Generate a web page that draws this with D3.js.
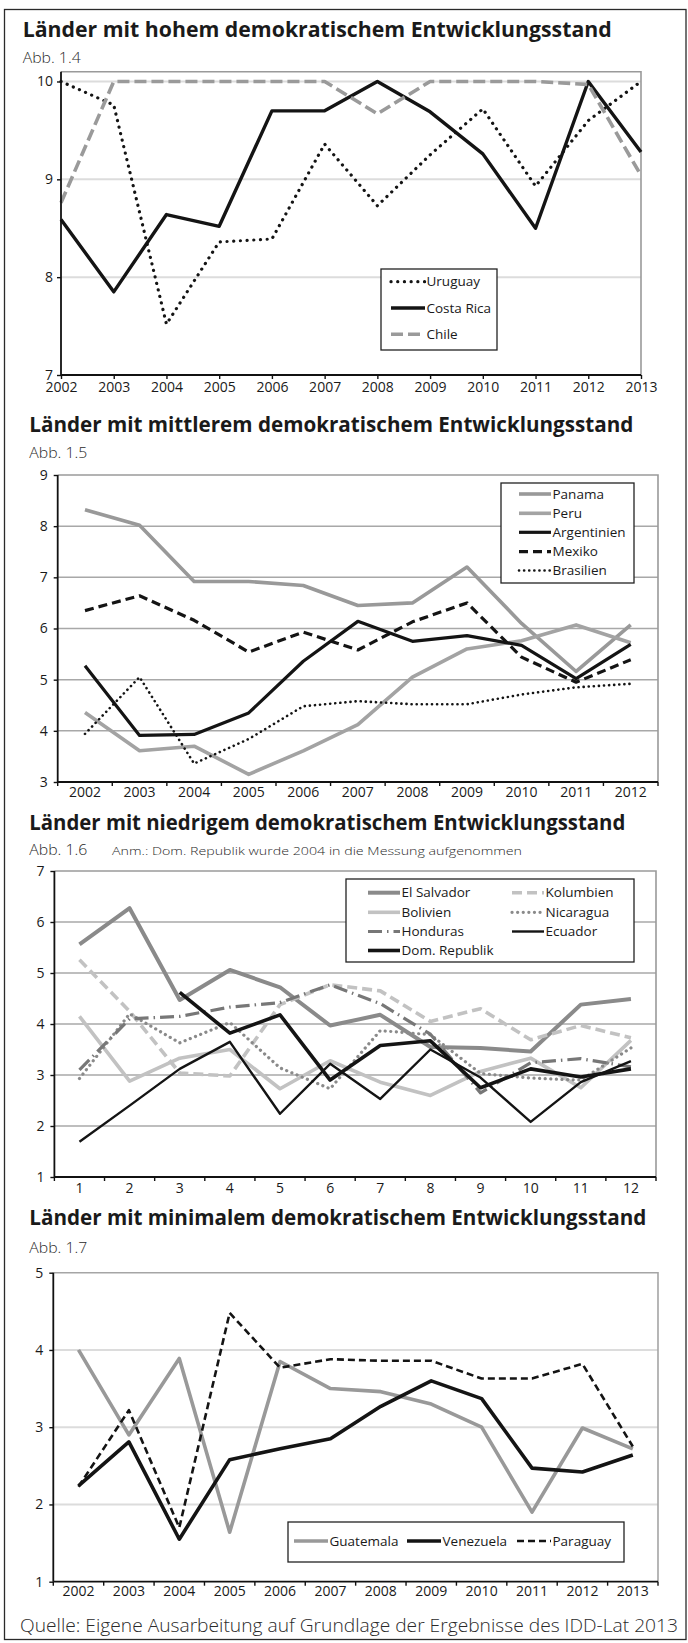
<!DOCTYPE html>
<html><head><meta charset="utf-8">
<script src="https://cdn.jsdelivr.net/npm/d3@7"></script>
<style>
body{margin:0;background:#fff;}
svg{display:block;}
text{font-family:"Open Sans","Noto Sans",sans-serif;fill:#1a1a1a;}
</style></head><body>
<svg id="c" width="688" height="1643"></svg>
<script>
// ---------- DATA ----------
const years1 = ["2002","2003","2004","2005","2006","2007","2008","2009","2010","2011","2012","2013"];
const yTicks1 = [7, 8, 9, 10];
const uruguay   = [10.0, 9.76, 7.52, 8.36, 8.39, 9.36, 8.73, 9.25, 9.72, 8.93, 9.6, 10.0];
const costaRica = [8.59, 7.85, 8.64, 8.52, 9.7, 9.7, 10.0, 9.69, 9.26, 8.5, 10.0, 9.28];
const chile     = [8.76, 10.0, 10.0, 10.0, 10.0, 10.0, 9.67, 10.0, 10.0, 10.0, 9.97, 9.04];

const years2 = ["2002","2003","2004","2005","2006","2007","2008","2009","2010","2011","2012"];
const yTicks2 = [3, 4, 5, 6, 7, 8, 9];
const panama      = [8.32, 8.02, 6.92, 6.92, 6.84, 6.45, 6.5, 7.2, 6.1, 5.16, 6.07];
const peru        = [4.36, 3.61, 3.7, 3.15, 3.61, 4.12, 5.05, 5.6, 5.76, 6.07, 5.72];
const argentinien = [5.27, 3.91, 3.93, 4.35, 5.36, 6.14, 5.75, 5.86, 5.67, 5.02, 5.69];
const mexiko      = [6.35, 6.64, 6.16, 5.54, 5.93, 5.58, 6.13, 6.5, 5.44, 4.95, 5.39];
const brasilien   = [3.94, 5.05, 3.36, 3.84, 4.48, 4.58, 4.52, 4.52, 4.71, 4.85, 4.92];

const cats3 = ["1","2","3","4","5","6","7","8","9","10","11","12"];
const yTicks3 = [1, 2, 3, 4, 5, 6, 7];
const elSalvador  = [5.56, 6.27, 4.47, 5.06, 4.72, 3.97, 4.18, 3.55, 3.53, 3.46, 4.38, 4.49];
const kolumbien   = [5.26, 4.25, 3.04, 2.98, 4.38, 4.77, 4.65, 4.05, 4.3, 3.69, 3.97, 3.73];
const bolivien    = [4.15, 2.88, 3.33, 3.5, 2.73, 3.28, 2.86, 2.6, 3.07, 3.33, 2.75, 3.68];
const nicaragua   = [2.93, 4.2, 3.63, 4.03, 3.14, 2.73, 3.87, 3.79, 3.03, 2.94, 2.9, 3.53];
const honduras    = [3.1, 4.1, 4.15, 4.33, 4.42, 4.77, 4.4, 3.8, 2.65, 3.24, 3.32, 3.16];
const ecuador     = [1.69, 2.4, 3.12, 3.65, 2.24, 3.22, 2.53, 3.5, 2.95, 2.08, 2.86, 3.27];
const domRepublik = [null, null, 4.62, 3.82, 4.18, 2.9, 3.58, 3.67, 2.75, 3.12, 2.96, 3.12];

const years4 = ["2002","2003","2004","2005","2006","2007","2008","2009","2010","2011","2012","2013"];
const yTicks4 = [1, 2, 3, 4, 5];
const guatemala = [4.0, 2.9, 3.89, 1.64, 3.85, 3.5, 3.46, 3.3, 3.0, 1.9, 2.99, 2.72];
const venezuela = [2.24, 2.81, 1.55, 2.58, 2.72, 2.85, 3.27, 3.6, 3.37, 2.47, 2.42, 2.64];
const paraguay  = [2.23, 3.22, 1.7, 4.48, 3.77, 3.88, 3.86, 3.86, 3.63, 3.63, 3.82, 2.75];

const titles = [
  "Länder mit hohem demokratischem Entwicklungsstand",
  "Länder mit mittlerem demokratischem Entwicklungsstand",
  "Länder mit niedrigem demokratischem Entwicklungsstand",
  "Länder mit minimalem demokratischem Entwicklungsstand"
];
const subtitles = ["Abb. 1.4", "Abb. 1.5", "Abb. 1.6", "Abb. 1.7"];
const note3 = "Anm.: Dom. Republik wurde 2004 in die Messung aufgenommen";
const source = "Quelle: Eigene Ausarbeitung auf Grundlage der Ergebnisse des IDD-Lat 2013";

// ---------- DRAW ----------
const svg = d3.select("#c");
svg.append("rect").attr("x", 4.5).attr("y", 9.5).attr("width", 681.5).attr("height", 1630)
  .attr("fill", "none").attr("stroke", "#2a2a2a").attr("stroke-width", 1.3);

function panel(cfg) {
  const g = svg.append("g");
  g.append("text").attr("x", cfg.tx).attr("y", cfg.ty).text(cfg.title)
    .attr("font-size", 22).attr("font-weight", 700)
    .attr("textLength", cfg.tlen).attr("lengthAdjust", "spacingAndGlyphs");
  g.append("text").attr("x", cfg.tx).attr("y", cfg.sy).text(cfg.sub)
    .attr("font-size", 15).attr("font-weight", 300).style("fill", "#2a2a2a")
    .attr("textLength", 58).attr("lengthAdjust", "spacingAndGlyphs");
  if (cfg.note) {
    g.append("text").attr("x", cfg.noteX).attr("y", cfg.sy).text(cfg.note)
      .attr("font-size", 11.5).attr("font-weight", 300).style("fill", "#2a2a2a")
      .attr("textLength", cfg.noteLen).attr("lengthAdjust", "spacingAndGlyphs");
  }

  const y = d3.scaleLinear().domain(cfg.yDomain).range([cfg.y1, cfg.y0]);
  let x, xc;
  if (cfg.point) {
    x = d3.scalePoint().domain(cfg.cats).range([cfg.x0, cfg.x1]);
    xc = d => x(d);
  } else {
    x = d3.scaleBand().domain(cfg.cats).range([cfg.x0, cfg.x1]).paddingInner(0).paddingOuter(0);
    xc = d => x(d) + x.bandwidth() / 2;
  }

  // gridlines
  g.append("g").selectAll("line").data(cfg.yTicks.filter(t => t !== cfg.yTicks[0] && y(t) > cfg.y0 + 0.5))
    .join("line").attr("x1", cfg.x0).attr("x2", cfg.x1)
    .attr("y1", d => y(d)).attr("y2", d => y(d))
    .attr("stroke", cfg.grid).attr("stroke-width", cfg.gridW);
  g.append("path").attr("d", `M${cfg.x0},${cfg.y0}H${cfg.x1}V${cfg.y1}`)
    .attr("fill", "none").attr("stroke", cfg.border).attr("stroke-width", 1.6);

  // series
  const line = d3.line().defined(d => d.v != null).x(d => xc(d.c)).y(d => y(d.v));
  cfg.series.forEach(s => {
    const pts = cfg.cats.map((c, i) => ({c: c, v: s.values[i]}));
    g.append("path").attr("d", line(pts)).attr("fill", "none")
      .attr("stroke", s.color).attr("stroke-width", s.w)
      .attr("stroke-dasharray", s.dash || null)
      .attr("stroke-linecap", s.cap || "butt")
      .attr("stroke-linejoin", "round");
  });

  // y axis
  const ya = g.append("g").attr("transform", `translate(${cfg.x0},0)`)
    .call(d3.axisLeft(y).tickValues(cfg.yTicks).tickFormat(d3.format("d"))
      .tickSize(4).tickSizeOuter(0).tickPadding(cfg.yPad));
  ya.select(".domain").remove();
  ya.selectAll(".tick line").attr("stroke", "#111").attr("stroke-width", 1.4);
  ya.selectAll(".tick text").attr("font-size", 14).attr("font-family", null).style("fill", "#1a1a1a");
  g.append("line").attr("x1", cfg.x0).attr("x2", cfg.x0).attr("y1", cfg.y0).attr("y2", cfg.y1)
    .attr("stroke", "#111").attr("stroke-width", 1.8);

  // x axis
  const xa = g.append("g").attr("transform", `translate(0,${cfg.y1})`)
    .call(d3.axisBottom(x).tickSize(cfg.point ? 4 : 0).tickSizeOuter(0));
  xa.select(".domain").remove();
  xa.selectAll(".tick line").attr("stroke", "#111").attr("stroke-width", 1.4);
  xa.selectAll(".tick text").attr("font-size", 14).attr("font-family", null).style("fill", "#1a1a1a")
    .attr("dy", null).attr("y", cfg.xly - cfg.y1);
  if (!cfg.point) {
    const edges = cfg.cats.map(c => x(c)).concat([cfg.x1]);
    g.append("g").selectAll("line").data(edges).join("line")
      .attr("x1", d => d).attr("x2", d => d).attr("y1", cfg.y1).attr("y2", cfg.y1 + 4)
      .attr("stroke", "#111").attr("stroke-width", 1.4);
  }
  g.append("line").attr("x1", cfg.x0).attr("x2", cfg.x1).attr("y1", cfg.y1).attr("y2", cfg.y1)
    .attr("stroke", "#111").attr("stroke-width", 1.8);

  // legend
  const L = cfg.legend;
  g.append("rect").attr("x", L.x).attr("y", L.y).attr("width", L.w).attr("height", L.h)
    .attr("fill", "#fff").attr("stroke", "#222").attr("stroke-width", 1.3);
  L.items.forEach(it => {
    const s = cfg.series[it.i];
    g.append("line").attr("x1", it.sx).attr("x2", it.sx + L.sl).attr("y1", it.y).attr("y2", it.y)
      .attr("stroke", s.color).attr("stroke-width", s.w)
      .attr("stroke-dasharray", s.dash || null).attr("stroke-linecap", s.cap || "butt");
    g.append("text").attr("x", it.sx + L.sl + 1.5).attr("y", it.y).attr("dy", "0.35em")
      .attr("font-size", 13.5).text(s.name);
  });
}

panel({
  id: 1, title: titles[0], tx: 22.7, ty: 36.7, tlen: 589, sub: subtitles[0], sy: 62.7,
  cats: years1, point: true, x0: 61, x1: 641, y0: 71.7, y1: 375, yDomain: [7, 10.1], yTicks: yTicks1,
  yPad: 4, xly: 391.7, grid: "#dcdcdc", gridW: 2, border: "#9a9a9a",
  series: [
    {name: "Uruguay", values: uruguay, color: "#141414", w: 3.2, dash: "0.1 6.6", cap: "round"},
    {name: "Costa Rica", values: costaRica, color: "#141414", w: 3.4},
    {name: "Chile", values: chile, color: "#9a9a9a", w: 3.6, dash: "12 5"}
  ],
  legend: {x: 381, y: 269, w: 116, h: 81, sl: 34,
    items: [{i: 0, sx: 391, y: 281.7}, {i: 1, sx: 391, y: 308}, {i: 2, sx: 391, y: 334.3}]}
});

panel({
  id: 2, title: titles[1], tx: 29.3, ty: 431.7, tlen: 604, sub: subtitles[1], sy: 458,
  cats: years2, point: false, x0: 57.7, x1: 658, y0: 475, y1: 782, yDomain: [3, 9], yTicks: yTicks2,
  yPad: 6, xly: 796.7, grid: "#a8a8a8", gridW: 1.5, border: "#9a9a9a",
  series: [
    {name: "Panama", values: panama, color: "#999999", w: 3.6},
    {name: "Peru", values: peru, color: "#a3a3a3", w: 3.6},
    {name: "Argentinien", values: argentinien, color: "#141414", w: 3.2},
    {name: "Mexiko", values: mexiko, color: "#141414", w: 3.2, dash: "9 5"},
    {name: "Brasilien", values: brasilien, color: "#141414", w: 2.6, dash: "0.1 5", cap: "round"}
  ],
  legend: {x: 501, y: 483, w: 133, h: 100, sl: 32,
    items: [{i: 0, sx: 519, y: 494}, {i: 1, sx: 519, y: 513.3}, {i: 2, sx: 519, y: 532.3},
            {i: 3, sx: 519, y: 551.7}, {i: 4, sx: 519, y: 570.5}]}
});

panel({
  id: 3, title: titles[2], tx: 29.3, ty: 830, tlen: 596, sub: subtitles[2], sy: 855,
  note: note3, noteX: 112, noteLen: 410,
  cats: cats3, point: false, x0: 54.4, x1: 656, y0: 871, y1: 1177, yDomain: [1, 7], yTicks: yTicks3,
  yPad: 6, xly: 1193, grid: "#a8a8a8", gridW: 1.5, border: "#9a9a9a",
  series: [
    {name: "El Salvador", values: elSalvador, color: "#8a8a8a", w: 4},
    {name: "Kolumbien", values: kolumbien, color: "#c2c2c2", w: 3.6, dash: "10 5"},
    {name: "Bolivien", values: bolivien, color: "#c2c2c2", w: 3.6},
    {name: "Nicaragua", values: nicaragua, color: "#8a8a8a", w: 3.2, dash: "0.1 5.5", cap: "round"},
    {name: "Honduras", values: honduras, color: "#777777", w: 3.2, dash: "14 5 1.5 5"},
    {name: "Ecuador", values: ecuador, color: "#141414", w: 2.4},
    {name: "Dom. Republik", values: domRepublik, color: "#141414", w: 3.6}
  ],
  legend: {x: 346, y: 879, w: 288, h: 83, sl: 32,
    items: [{i: 0, sx: 368, y: 892.7}, {i: 1, sx: 512, y: 892.7},
            {i: 2, sx: 368, y: 912.3}, {i: 3, sx: 512, y: 912.3},
            {i: 4, sx: 368, y: 931.5}, {i: 5, sx: 512, y: 931.5},
            {i: 6, sx: 368, y: 950.5}]}
});

panel({
  id: 4, title: titles[3], tx: 29.3, ty: 1225, tlen: 617, sub: subtitles[3], sy: 1252.7,
  cats: years4, point: false, x0: 53.3, x1: 658, y0: 1272.7, y1: 1581.7, yDomain: [1, 5], yTicks: yTicks4,
  yPad: 6, xly: 1596, grid: "#dcdcdc", gridW: 2, border: "#a5a5a5",
  series: [
    {name: "Guatemala", values: guatemala, color: "#999999", w: 3.6},
    {name: "Venezuela", values: venezuela, color: "#141414", w: 3.6},
    {name: "Paraguay", values: paraguay, color: "#141414", w: 2.6, dash: "7 4"}
  ],
  legend: {x: 288, y: 1522, w: 336, h: 40, sl: 34,
    items: [{i: 0, sx: 294, y: 1541}, {i: 1, sx: 407, y: 1541}, {i: 2, sx: 517, y: 1541}]}
});

svg.append("text").attr("x", 20).attr("y", 1631.7).text(source)
  .attr("font-size", 18).attr("font-weight", 300).style("fill", "#2a2a2a")
  .attr("textLength", 658).attr("lengthAdjust", "spacingAndGlyphs");
</script>
</body></html>
